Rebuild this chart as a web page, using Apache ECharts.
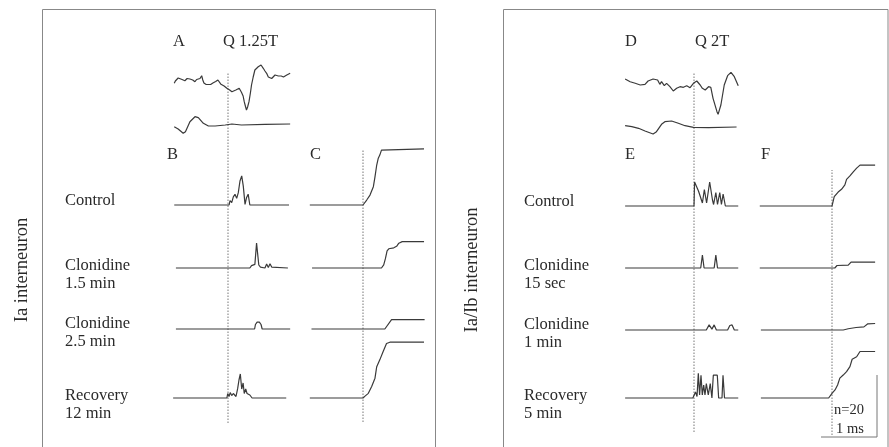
<!DOCTYPE html>
<html><head><meta charset="utf-8">
<script src="https://cdn.jsdelivr.net/npm/echarts@6/dist/echarts.min.js"></script>
<style>html,body{margin:0;padding:0;background:#fff}#c{width:889px;height:447px}</style>
</head><body><div id="c"></div>
<script>
// ---- Data (time in ms relative to stimulus; amplitude a.u.; histogram counts) ----
const stimTime = 0;
// Panel A (Q 1.25T) raw records
const aTop = [[-0.96,-3.3],[-0.94,-1],[-0.92,0],[-0.89,2],[-0.86,1],[-0.82,0.5],[-0.77,-0.7],[-0.73,1.5],[-0.68,1],[-0.63,0],[-0.59,-1.7],[-0.56,0.5],[-0.54,2.3],[-0.5,1.5],[-0.47,4.3],[-0.45,0],[-0.43,-3],[-0.39,-4.5],[-0.36,-5],[-0.31,-4.5],[-0.27,-3],[-0.22,-1.5],[-0.18,0],[-0.15,-2],[-0.125,-4.3],[-0.07,-6],[-0.02,-8.3],[0.03,-10],[0.07,-11.7],[0.1,-10.5],[0.14,-10],[0.17,-9],[0.2,-8.3],[0.22,-10],[0.24,-12.3],[0.27,-16],[0.29,-21.7],[0.31,-26],[0.33,-30],[0.35,-27],[0.375,-21.7],[0.4,-13],[0.42,-5],[0.45,3],[0.48,10],[0.51,12],[0.54,13.3],[0.56,12.5],[0.59,15],[0.61,14],[0.63,11.7],[0.66,9],[0.69,6.7],[0.72,3],[0.75,1],[0.78,1.5],[0.81,2.3],[0.84,5],[0.87,6.7],[0.9,4],[0.93,2.3],[0.95,4],[0.97,5],[0.99,3],[1.02,3.3],[1.05,5],[1.08,5.5],[1.11,6.7]];
const aBottom = [[-0.96,-1.7],[-0.89,-4],[-0.8,-8.3],[-0.76,-6.7],[-0.68,3.3],[-0.59,8.3],[-0.53,7.3],[-0.44,1.7],[-0.35,-1],[-0.23,-1],[-0.05,0],[0.07,1],[0.24,0],[0.66,0.7],[1.11,1]];
// Panel D (Q 2T) raw records
const dTop = [[-1.23,1],[-1.14,-1.7],[-1.05,-3.3],[-0.96,-5],[-0.875,-4.3],[-0.82,-1],[-0.73,1],[-0.65,0],[-0.61,-4.3],[-0.58,-1.7],[-0.53,-5.7],[-0.49,-3.3],[-0.43,-6.7],[-0.37,-11],[-0.31,-8.3],[-0.25,-6.7],[-0.19,-7.3],[-0.13,-5.7],[-0.07,-7.7],[-0.01,-3.3],[0.05,-1],[0.11,-5],[0.15,-8.3],[0.2,-10],[0.26,-6.7],[0.3,-7.3],[0.34,-18.3],[0.41,-31.7],[0.43,-34.3],[0.48,-25],[0.54,-5],[0.6,4.3],[0.66,7.7],[0.72,3.3],[0.79,-5.7]];
const dBottom = [[-1.23,1.3],[-1.11,0.3],[-0.99,-1.3],[-0.875,-4],[-0.73,-7],[-0.67,-4.7],[-0.58,2.7],[-0.52,5.3],[-0.4,6],[-0.28,3.7],[-0.16,1.3],[-0.01,-0.3],[0.26,-0.7],[0.76,0]];
// Panel B: PSTH (counts)
const bControl = [[-0.96,0],[0.02,0],[0.036,1.5],[0.066,0.8],[0.095,2.7],[0.125,3.6],[0.155,2.2],[0.184,4.1],[0.214,8],[0.245,9.7],[0.273,6.3],[0.304,0.2],[0.33,2.4],[0.36,3.6],[0.39,0],[1.09,0]];
const bClon15 = [[-0.93,0],[0.39,0],[0.42,0.8],[0.45,0.3],[0.48,1.2],[0.51,8.3],[0.55,1],[0.58,0.3],[0.61,0],[0.66,0],[0.69,1.3],[0.72,0.2],[0.75,1.4],[0.78,0.3],[0.8,0],[1.07,0]];
const bClon25 = [[-0.93,0],[0.475,0],[0.49,1.5],[0.52,2.3],[0.56,2.3],[0.59,1.5],[0.61,0],[1.11,0]];
const bRecov = [[-0.98,0],[-0.02,0],[-0.005,1.5],[0.018,0.5],[0.04,1.8],[0.066,0.8],[0.095,1.5],[0.125,2.1],[0.143,0.5],[0.173,3.2],[0.196,6],[0.22,8],[0.245,3],[0.27,5],[0.29,1.5],[0.316,3],[0.34,1.5],[0.36,2],[0.39,1],[0.41,0.5],[0.43,0],[1.04,0]];
// Panel C: cumulative sums (counts)
const cControl = [[-0.95,0],[0,0],[0.005,0.5],[0.066,1.6],[0.125,3.2],[0.185,5.9],[0.214,9.1],[0.245,12.9],[0.273,15.1],[0.3,16.1],[0.33,17.7],[0.36,18.1],[1.09,18.1]];
const cClon15 = [[-0.91,0],[0.33,0],[0.37,1],[0.4,3],[0.43,5.5],[0.46,6.2],[0.55,6.5],[0.6,7],[0.64,8],[0.7,8.5],[1.09,8.5]];
const cClon25 = [[-0.92,0],[0.39,0],[0.51,3],[1.1,3]];
const cRecov = [[-0.95,0],[0,0],[0.036,0.6],[0.095,1.5],[0.155,3.7],[0.214,6.4],[0.245,10.1],[0.3,12.3],[0.36,15],[0.42,17.6],[0.48,18],[1.09,18]];
// Panel E: PSTH (counts)
const eControl = [[-1.23,0],[0,0],[0.01,8],[0.045,6.5],[0.08,5],[0.115,4.5],[0.15,1],[0.185,5.5],[0.225,1],[0.28,8],[0.33,2],[0.35,0.5],[0.39,4.5],[0.42,0.5],[0.46,4.5],[0.49,0.5],[0.52,4],[0.56,0],[0.79,0]];
const eClon15s = [[-1.23,0],[0.12,0],[0.15,4.3],[0.18,0],[0.36,0],[0.39,4.3],[0.42,0],[0.79,0]];
const eClon1 = [[-1.23,0],[0.22,0],[0.27,1.7],[0.32,0.3],[0.36,1.7],[0.4,0],[0.6,0],[0.64,1.5],[0.68,1.7],[0.72,0],[0.79,0]];
const eRecov = [[-1.23,0],[-0.02,0],[0.027,2],[0.054,0.5],[0.077,8.2],[0.1,1],[0.125,7.6],[0.148,1],[0.173,4.3],[0.196,1],[0.22,4.8],[0.255,1],[0.29,4.8],[0.32,0],[0.345,7.6],[0.416,7.6],[0.44,0],[0.5,0],[0.518,7.6],[0.545,0],[0.79,0]];
// Panel F: cumulative sums (counts)
const fControl = [[-1.29,0],[0,0],[0.04,3],[0.11,4.5],[0.17,5.4],[0.23,6.8],[0.26,8.6],[0.32,9.7],[0.38,11],[0.44,12.2],[0.5,13.2],[0.77,13.2]];
const fClon15s = [[-1.29,0],[0.05,0],[0.09,0.8],[0.29,0.9],[0.34,1.9],[0.77,1.9]];
const fClon1 = [[-1.27,0],[0.2,0],[0.29,0.4],[0.43,0.8],[0.57,1],[0.64,2],[0.77,2.1]];
const fRecov = [[-1.27,0],[-0.06,0],[-0.03,0.5],[0,1.5],[0.054,2.6],[0.1,4.2],[0.14,6.4],[0.2,7.4],[0.26,8.5],[0.32,10.1],[0.36,12.5],[0.44,13.3],[0.5,15],[0.77,15]];
// Scale bar: 1 ms x 20 counts
const scaleBar = [[0,0],[1,0],[1,20]];
const leftRowLabels = ['Control','Clonidine\n1.5 min','Clonidine\n2.5 min','Recovery\n12 min'];
const rightRowLabels = ['Control','Clonidine\n15 sec','Clonidine\n1 min','Recovery\n5 min'];

// ---- Layout ----
const PX = 56; // px per ms
const FONT = 'Liberation Serif';
const colAB = {stimX:228, tMin:-1, tMax:1.15};
const colC  = {stimX:363, tMin:-1, tMax:1.15};
const colDE = {stimX:694, tMin:-1.25, tMax:0.8};
const colF  = {stimX:832, tMin:-1.3, tMax:0.8};

const grids = [], xAxes = [], yAxes = [], series = [];
function addGrid(col, top, height, yMin, yMax, data, style) {
  const i = grids.length;
  grids.push({left: col.stimX + col.tMin*PX, width: (col.tMax-col.tMin)*PX, top: top, height: height, outerBoundsMode:'none'});
  xAxes.push({type:'value', gridIndex:i, min:col.tMin, max:col.tMax, show:false});
  yAxes.push({type:'value', gridIndex:i, min:yMin, max:yMax, show:false});
  series.push({type:'line', xAxisIndex:i, yAxisIndex:i, data:data, symbol:'none', clip:false,
    lineStyle: style || {color:'#3a3a3a', width:1.2}, silent:true, animation:false});
}
function trace(col, baseY, vMin, vMax, ppu, data) {
  addGrid(col, baseY - vMax*ppu, (vMax - vMin)*ppu, vMin, vMax, data);
}
const dotted = {color:'#777', width:1, type:[1.5,1.5]};
function stim(col, y0, y1) {
  addGrid(col, y0, y1 - y0, 0, 1, [[stimTime,0],[stimTime,1]], dotted);
}

// stimulus lines
stim(colAB, 73, 423); stim(colC, 150, 422); stim(colDE, 73, 432); stim(colF, 170, 435);
// A, D
trace(colAB, 80, -35, 20, 1, aTop);
trace(colAB, 125, -10, 10, 1, aBottom);
trace(colDE, 80, -36, 20, 1, dTop);
trace(colDE, 127, -10, 10, 1, dBottom);
// B, C
const leftBase = [205, 268, 329, 398];
[bControl,bClon15,bClon25,bRecov].forEach((d,k)=>trace(colAB, leftBase[k], 0, 12, 3, d));
[cControl,cClon15,cClon25,cRecov].forEach((d,k)=>trace(colC, leftBase[k], 0, 20, 3.1, d));
// E, F
const rightBase = [206, 268, 330, 398];
[eControl,eClon15s,eClon1,eRecov].forEach((d,k)=>trace(colDE, rightBase[k], 0, 12, 3, d));
[fControl,fClon15s,fClon1,fRecov].forEach((d,k)=>trace(colF, rightBase[k], 0, 20, 3.1, d));
// scale bar
grids.push({left:821, top:375, width:56, height:62, outerBoundsMode:'none'});
xAxes.push({type:'value', gridIndex:grids.length-1, min:0, max:1, show:false});
yAxes.push({type:'value', gridIndex:grids.length-1, min:0, max:20, show:false});
series.push({type:'line', xAxisIndex:grids.length-1, yAxisIndex:grids.length-1, data:scaleBar, symbol:'none', clip:false, lineStyle:{color:'#777', width:1}, silent:true, animation:false});

// ---- Texts & frames ----
const TC = '#2a2a2a';
function txt(text, x, y, size, extra) {
  return Object.assign({type:'text', silent:true, style:Object.assign({text:text, x:x, y:y, fontFamily:FONT, fontSize:size, fill:TC, textAlign:'left', textVerticalAlign:'middle', lineHeight:18}, extra||{})});
}
const graphic = [
  {type:'rect', silent:true, shape:{x:42.5, y:9.5, width:393, height:460}, style:{fill:'none', stroke:'#888', lineWidth:1}},
  {type:'rect', silent:true, shape:{x:503.5, y:9.5, width:384.5, height:460}, style:{fill:'none', stroke:'#888', lineWidth:1}},
  txt('A', 173, 42, 16.5), txt('Q 1.25T', 223, 42, 16.5),
  txt('B', 167, 155, 16.5), txt('C', 310, 155, 16.5),
  txt('D', 625, 42, 16.5), txt('Q 2T', 695, 42, 16.5),
  txt('E', 625, 155, 16.5), txt('F', 761, 155, 16.5),
  txt('n=20', 849, 410, 14.5, {textAlign:'center'}), txt('1 ms', 850, 429, 14.5, {textAlign:'center'}),
  {type:'text', silent:true, x:22, y:270, rotation:Math.PI/2, style:{text:'Ia interneuron', x:0, y:0, fontFamily:FONT, fontSize:18.5, fill:TC, textAlign:'center', textVerticalAlign:'middle'}},
  {type:'text', silent:true, x:472, y:270, rotation:Math.PI/2, style:{text:'Ia/Ib interneuron', x:0, y:0, fontFamily:FONT, fontSize:18.5, fill:TC, textAlign:'center', textVerticalAlign:'middle'}}
];
const leftLabelY = [201, 266, 324, 396];
const rightLabelY = [201.5, 266, 325, 396];
leftRowLabels.forEach((t,k)=>graphic.push(txt(t, 65, leftLabelY[k]-9, 16.5, {textVerticalAlign:'top'})));
rightRowLabels.forEach((t,k)=>graphic.push(txt(t, 524, rightLabelY[k]-9, 16.5, {textVerticalAlign:'top'})));

const chart = echarts.init(document.getElementById('c'), null, {renderer:'canvas'});
chart.setOption({animation:false, backgroundColor:'#fff', grid:grids, xAxis:xAxes, yAxis:yAxes, series:series, graphic:graphic});
</script></body></html>
